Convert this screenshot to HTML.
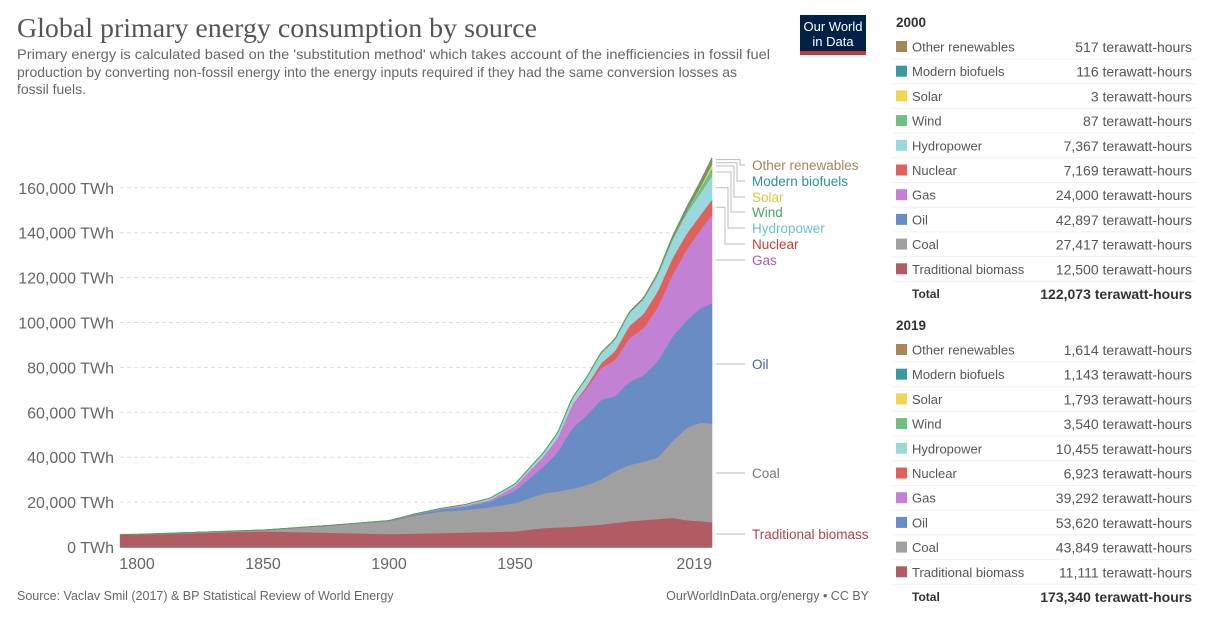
<!DOCTYPE html>
<html><head><meta charset="utf-8"><style>
body{margin:0;background:#fff;width:1224px;height:636px;overflow:hidden}
svg{display:block;font-family:"Liberation Sans",sans-serif}
</style></head><body>
<svg id="s" width="1224" height="636" viewBox="0 0 1224 636" xmlns="http://www.w3.org/2000/svg">
<text x="17" y="37" font-family="Liberation Serif,serif" font-size="27" fill="#555" textLength="520" lengthAdjust="spacingAndGlyphs">Global primary energy consumption by source</text>
<g font-size="14" fill="#666">
<text x="17" y="59" textLength="753" lengthAdjust="spacingAndGlyphs">Primary energy is calculated based on the 'substitution method' which takes account of the inefficiencies in fossil fuel</text>
<text x="17" y="77" textLength="720" lengthAdjust="spacingAndGlyphs">production by converting non-fossil energy into the energy inputs required if they had the same conversion losses as</text>
<text x="17" y="94" textLength="69" lengthAdjust="spacingAndGlyphs">fossil fuels.</text>
</g>
<rect x="800" y="15" width="66" height="37" fill="#002147"/>
<rect x="800" y="51" width="66" height="4" fill="#c0393b"/>
<text x="833" y="31" font-size="13" fill="#fff" text-anchor="middle">Our World</text>
<text x="833" y="46" font-size="13" fill="#fff" text-anchor="middle">in Data</text>
<g id="grid"></g>
<g id="areas"></g>
<g id="labels" font-size="13.5"></g>
<g id="leg" font-size="13"></g>
<text x="17" y="600" font-size="12.5" fill="#666">Source: Vaclav Smil (2017) &amp; BP Statistical Review of World Energy</text>
<text x="869" y="600" font-size="12.5" fill="#666" text-anchor="end">OurWorldInData.org/energy • CC BY</text>
</svg>
<script>
var NS="http://www.w3.org/2000/svg";
function el(p,t,a,txt){var e=document.createElementNS(NS,t);for(var k in a)e.setAttribute(k,a[k]);if(txt!=null)e.textContent=txt;document.getElementById(p).appendChild(e);return e;}
function X(y){return y<=1950?137+(y-1800)*2.52:515+(y-1950)*(197/69);}
function Y(v){return 547-v*0.002245;}
for(var i=0;i<=8;i++){var v=i*20000,y=Y(v);
 if(i>0)el("grid","line",{x1:120,x2:712,y1:y,y2:y,stroke:"#ddd","stroke-dasharray":"4,3"});
 el("grid","text",{x:114,y:y+6,"font-size":"16","fill":"#666","text-anchor":"end"},(i==0?"0":(v/1000)+",000")+" TWh");}
el("grid","line",{x1:120,x2:712,y1:547.5,y2:547.5,stroke:"#999"});
[[1800,137],[1850,263],[1900,389],[1950,515],[2019,712]].forEach(function(a){el("grid","text",{x:a[1],y:569,"font-size":"16",fill:"#666","text-anchor":a[0]==2019?"end":"middle"},a[0]);});
var S=[
["Traditional biomass","#b25b63","#b0414e",{1793:5500,1800:5556,1850:7000,1900:5800,1920:6200,1950:7000,1960:8500,1970:9000,1980:10000,1990:11500,2000:12500,2005:13000,2010:12000,2019:11111}],
["Coal","#a0a0a0","#777",{1793:80,1800:97,1850:570,1900:5700,1910:8000,1920:9500,1930:10000,1940:11000,1950:12600,1960:15400,1965:16000,1970:17000,1975:18000,1980:20000,1985:23000,1990:25000,1995:26000,2000:27417,2005:34000,2010:41000,2015:44000,2019:43849}],
["Oil","#6a8cc5","#3a62a8",{1880:0,1900:181,1910:400,1920:1000,1930:1500,1940:2500,1950:5400,1960:12000,1965:17500,1970:27000,1975:31000,1980:35500,1985:33500,1990:37000,1995:38500,2000:42897,2005:46500,2010:47800,2015:51000,2019:53620}],
["Gas","#c281d3","#a55bbb",{1880:0,1900:64,1920:200,1930:500,1940:700,1950:2100,1960:4500,1965:6300,1970:10000,1975:12000,1980:14200,1985:16000,1990:19500,1995:21000,2000:24000,2005:27500,2010:31500,2015:35000,2019:39292}],
["Nuclear","#e0615c","#cc3a36",{1955:0,1960:10,1970:200,1975:1000,1980:2000,1985:4000,1990:5500,1995:6300,2000:7169,2005:7300,2010:7100,2015:6500,2019:6923}],
["Hydropower","#9bd8dc","#6cc3ca",{1880:0,1900:50,1920:200,1930:400,1940:800,1950:1000,1960:1700,1970:3000,1980:4500,1990:5800,2000:7367,2010:9000,2019:10455}],
["Wind","#6fbf7f","#4da65f",{1990:0,2000:87,2005:260,2010:900,2015:2200,2019:3540}],
["Solar","#f1d451","#e2c23a",{2000:0,2005:10,2010:80,2015:650,2019:1793}],
["Modern biofuels","#3a9aa0","#2f8ea0",{1990:0,2000:116,2010:600,2019:1143}],
["Other renewables","#a8865d","#a0865e",{1960:0,1970:100,2000:517,2019:1614}]];
function val(d,y){var ks=Object.keys(d).map(Number).sort(function(a,b){return a-b});if(y<ks[0])return 0;if(y>=ks[ks.length-1])return d[ks[ks.length-1]];for(var i=0;i<ks.length-1;i++){if(y>=ks[i]&&y<=ks[i+1]){var t=(y-ks[i])/(ks[i+1]-ks[i]);return d[ks[i]]+t*(d[ks[i+1]]-d[ks[i]]);}}}
var yrs=[];for(var y=1793.3;y<2019;y+=1)yrs.push(y);yrs.push(2019);
var base=yrs.map(function(){return 0});
var tops=[];
S.forEach(function(s,si){var top=yrs.map(function(y,i){return base[i]+val(s[3],y)});
 var d="M"+yrs.map(function(y,i){return X(y).toFixed(1)+","+Y(top[i]).toFixed(1)}).join("L");
 for(var i=yrs.length-1;i>=0;i--)d+="L"+X(yrs[i]).toFixed(1)+","+Y(base[i]).toFixed(1);
 el("areas","path",{d:d+"Z",fill:s[1],stroke:s[1],"stroke-width":"0.6"});
 tops.push([(base[base.length-1]+top[top.length-1])/2]);base=top;});
el("areas","path",{d:"M"+yrs.map(function(y,i){return X(y).toFixed(1)+","+Y(base[i]).toFixed(1)}).join("L"),fill:"none",stroke:"#5a9a60","stroke-width":"1"});
var ly=[534,473,364,260,244,228,212,197,181,165];
S.forEach(function(s,i){var sy=Y(tops[i][0]),l=ly[i];var ex=(i>=4)?717+(i-4)*3:730;
 var pts=i<4?[[716,l],[745,l]]:[[716,sy],[ex+8,sy],[ex+8,l],[745,l]];
 el("labels","polyline",{points:pts.map(function(p){return p.join(",")}).join(" "),fill:"none",stroke:"#bbb","stroke-width":"1"});
 el("labels","text",{x:752,y:l+5,fill:s[2]},s[0]);});
var L=[[22,"2000",[517,116,3,87,7367,7169,24000,42897,27417,12500],"122,073"],[325,"2019",[1614,1143,1793,3540,10455,6923,39292,53620,43849,11111],"173,340"]];
var order=[9,8,7,6,5,4,3,2,1,0];
L.forEach(function(b){el("leg","text",{x:896,y:b[0]+5,"font-weight":"bold",fill:"#333","font-size":"13.5"},b[1]);
 order.forEach(function(si,r){var y=b[0]+25+r*24.7;
  el("leg","rect",{x:896,y:y-6,width:11,height:11,fill:S[si][1]});
  el("leg","text",{x:912,y:y+4.5,fill:"#555"},S[si][0]);
  el("leg","text",{x:1192,y:y+5,fill:"#555","text-anchor":"end","font-size":"14"},b[2][r].toLocaleString("en-US")+" terawatt-hours");
  el("leg","line",{x1:893,x2:1195,y1:y+12,y2:y+12,stroke:"#f0f0f0"});});
 var ty=b[0]+25+10*24.7;
 el("leg","text",{x:912,y:ty+4,"font-weight":"bold",fill:"#333","font-size":"12"},"Total");
 el("leg","text",{x:1192,y:ty+5,"font-weight":"bold",fill:"#333","text-anchor":"end","font-size":"14"},b[3]+" terawatt-hours");});
</script>
</body></html>
